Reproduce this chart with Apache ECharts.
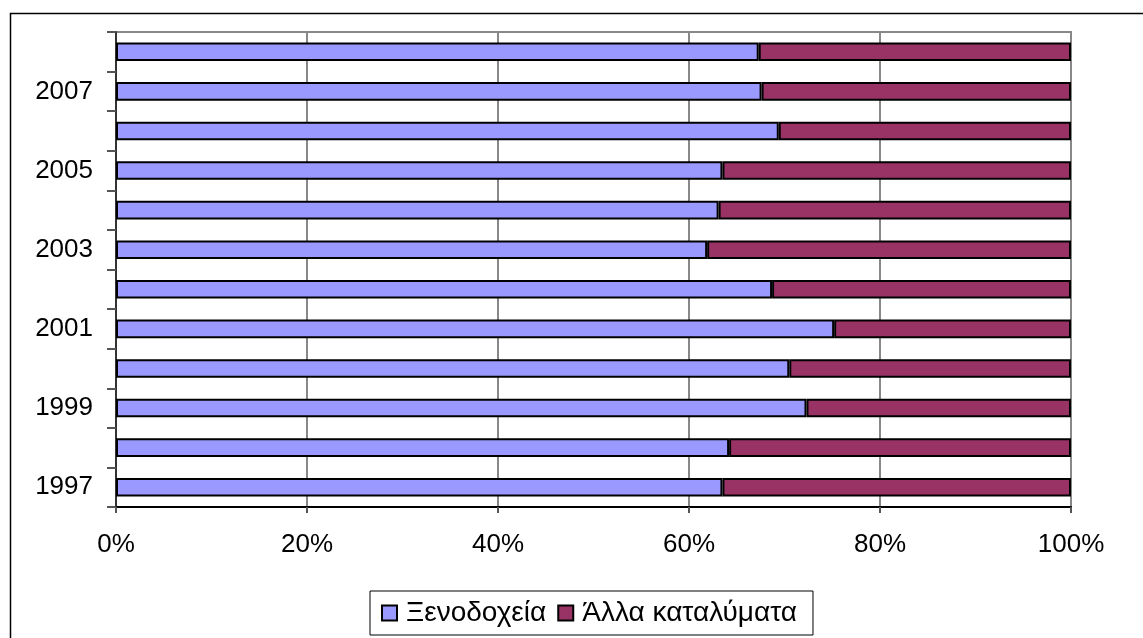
<!DOCTYPE html>
<html>
<head>
<meta charset="utf-8">
<script src="https://cdn.jsdelivr.net/npm/echarts@6/dist/echarts.min.js"></script>
<style>
  html, body { margin: 0; padding: 0; background: #fff; }
  #chart { width: 1143px; height: 638px; }
</style>
</head>
<body>
<div id="chart"></div>
<script>
// ---------- DATA ----------
const years = ['1997', '1998', '1999', '2000', '2001', '2002', '2003', '2004', '2005', '2006', '2007', '2008'];
const hotels = [63.5, 64.2, 72.3, 70.5, 75.2, 68.7, 61.9, 63.1, 63.5, 69.4, 67.6, 67.3];
const otherLodging = [36.5, 35.8, 27.7, 29.5, 24.8, 31.3, 38.1, 36.9, 36.5, 30.6, 32.4, 32.7];
const seriesNames = ['Ξενοδοχεία', 'Άλλα καταλύματα'];

const font = "'Liberation Sans', Arial, sans-serif";

let chart = echarts.init(document.getElementById('chart'));

let options = {
  animation: false,
  backgroundColor: '#fff',
  textStyle: { fontFamily: font },
  graphic: [{
    type: 'rect',
    left: 8, top: 11,
    shape: { width: 1200, height: 700 },
    style: { fill: 'none', stroke: '#000', lineWidth: 1.5 },
    z: -1
  }],
  grid: {
    left: 116, right: 72, top: 32, bottom: 131,
    show: true,
    borderColor: '#888',
    borderWidth: 2
  },
  legend: {
    left: 370, top: 591,
    padding: [8, 16, 8, 11],
    borderColor: '#000',
    borderWidth: 1,
    itemWidth: 15, itemHeight: 15,
    itemGap: 11,
    icon: 'rect',
    textStyle: { fontFamily: font, fontSize: 28, color: '#000', padding: [0, 0, 0, 4] },
    data: seriesNames
  },
  xAxis: {
    type: 'value',
    min: 0, max: 100, interval: 20,
    axisLine: { show: true, lineStyle: { color: '#000', width: 2 } },
    axisTick: { show: true, length: 6, lineStyle: { color: '#555', width: 2 } },
    axisLabel: { formatter: '{value}%', fontSize: 26, color: '#000', margin: 25, fontFamily: font },
    splitLine: { show: true, lineStyle: { color: '#888', width: 2 } }
  },
  yAxis: {
    type: 'category',
    data: years,
    axisLine: { show: true, lineStyle: { color: '#333', width: 2 } },
    axisTick: { show: true, interval: 0, length: 9, lineStyle: { color: '#555', width: 2 } },
    axisLabel: { interval: 1, fontSize: 26, color: '#000', margin: 23, fontFamily: font },
    splitLine: { show: false }
  },
  series: [
    {
      name: seriesNames[0],
      type: 'bar',
      stack: 'total',
      barWidth: '47%',
      itemStyle: { color: '#9999FF', borderColor: '#000', borderWidth: 2 },
      data: hotels
    },
    {
      name: seriesNames[1],
      type: 'bar',
      stack: 'total',
      barWidth: '47%',
      itemStyle: { color: '#993366', borderColor: '#000', borderWidth: 2 },
      data: otherLodging
    }
  ]
};

chart.setOption(options);
</script>
</body>
</html>
